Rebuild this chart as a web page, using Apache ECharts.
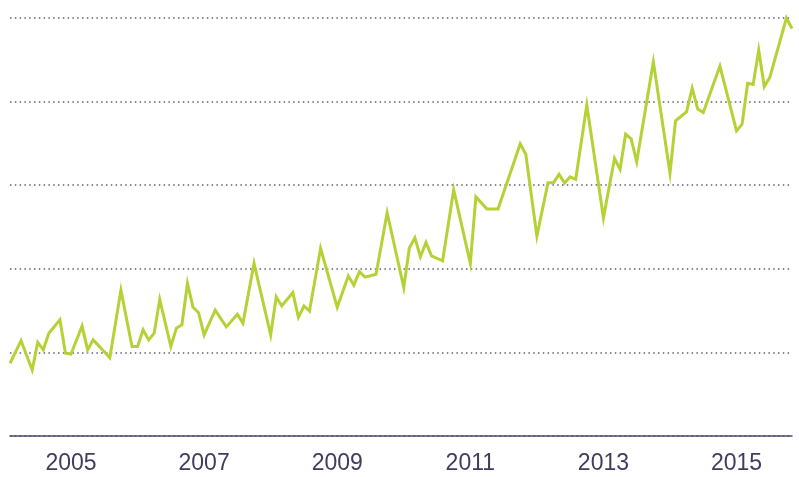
<!DOCTYPE html>
<html>
<head>
<meta charset="utf-8">
<script src="https://cdn.jsdelivr.net/npm/echarts@6/dist/echarts.min.js"></script>
<style>html,body{margin:0;padding:0;background:#fff}#c{width:799px;height:477px}</style>
</head>
<body>
<div id="c"></div>
<script>
var months = ['2004-02','2004-04','2004-06','2004-07','2004-08','2004-09','2004-11','2004-12','2005-01','2005-03','2005-04','2005-05','2005-08','2005-10','2005-12','2006-01','2006-02','2006-03','2006-04','2006-05','2006-07','2006-08','2006-09','2006-10','2006-11','2006-12','2007-01','2007-03','2007-05','2007-07','2007-08','2007-10','2008-01','2008-02','2008-03','2008-05','2008-06','2008-07','2008-08','2008-10','2009-01','2009-03','2009-04','2009-05','2009-06','2009-08','2009-10','2010-01','2010-02','2010-03','2010-04','2010-05','2010-06','2010-08','2010-10','2011-01','2011-02','2011-04','2011-06','2011-10','2011-11','2012-01','2012-03','2012-04','2012-05','2012-06','2012-07','2012-08','2012-10','2013-01','2013-03','2013-04','2013-05','2013-06','2013-07','2013-10','2014-01','2014-02','2014-04','2014-05','2014-06','2014-07','2014-10','2015-01','2015-02','2015-03','2015-04','2015-05','2015-06','2015-07','2015-10','2015-11'];
var values = [17.4,22.8,15.8,22.4,20.6,24.6,27.8,19.8,19.6,26.3,20.6,23.0,18.7,34.9,21.4,21.4,25.4,23.0,24.6,32.7,21.4,25.8,26.6,36.5,30.8,29.5,24.2,30.1,26.1,29.1,27.0,41.3,24.2,33.3,31.1,34.3,28.4,31.1,29.9,44.9,30.8,38.3,36.1,39.3,38.0,38.7,53.4,35.5,45.0,47.4,42.9,46.3,43.1,41.9,58.9,41.3,57.2,54.3,54.3,69.9,67.4,47.8,60.6,60.6,62.6,60.5,62.0,61.4,79.2,52.2,66.4,63.8,72.2,71.1,65.6,89.5,62.9,75.4,77.6,83.2,78.2,77.4,88.5,73.0,74.6,84.4,84.1,92.3,83.6,85.8,100.0,97.5];
var yearLabels = [2005, 2007, 2009, 2011, 2013, 2015];
var xStart = '2004-02';
var xEnd = '2015-11';

function toYear(s) {
  var p = s.split('-');
  return parseInt(p[0], 10) + (parseInt(p[1], 10) - 1) / 12;
}
var seriesData = months.map(function (m, i) { return [toYear(m), values[i]]; });

var chart = echarts.init(document.getElementById('c'), null, {renderer: 'canvas'});
chart.setOption({
  animation: false,
  backgroundColor: '#ffffff',
  grid: {left: 10, right: 7, top: 18, bottom: 41, containLabel: false},
  xAxis: {
    type: 'value',
    min: toYear(xStart),
    max: toYear(xEnd),
    axisLine: {show: true, lineStyle: {color: '#4a4868', width: 1.5}},
    axisTick: {show: false},
    splitLine: {show: false},
    axisLabel: {
      customValues: yearLabels,
      color: '#3f3d5e',
      fontSize: 23,
      fontFamily: 'Liberation Sans, Arial, sans-serif',
      margin: 16,
      formatter: function (v) { return String(Math.round(v)); }
    }
  },
  yAxis: {
    type: 'value',
    min: 0,
    max: 100,
    interval: 20,
    axisLine: {show: false},
    axisTick: {show: false},
    axisLabel: {show: false},
    splitLine: {show: true, lineStyle: {color: '#5f5c7c', width: 1.5, type: [1.5, 3.3]}}
  },
  series: [{
    type: 'line',
    data: seriesData,
    showSymbol: false,
    symbol: 'none',
    clip: false,
    lineStyle: {color: '#b4d236', width: 3, join: 'miter', cap: 'butt'}
  }]
});
</script>
</body>
</html>
